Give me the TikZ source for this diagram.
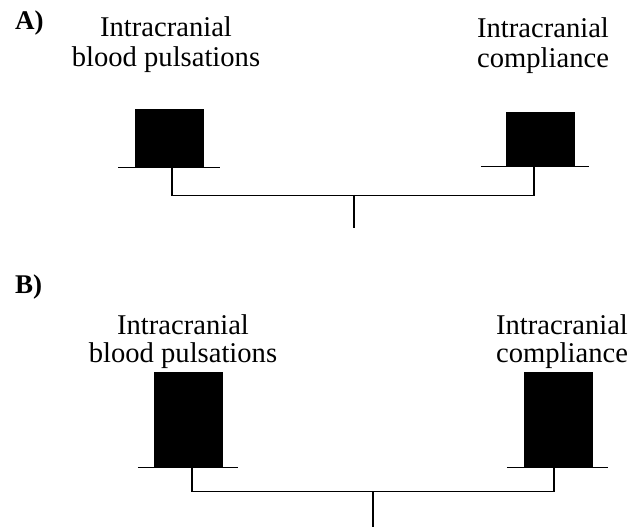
\documentclass[tikz,border=0pt]{standalone}
\usepackage{fontspec}
\setmainfont{Liberation Serif}
\usetikzlibrary{positioning,calc}
\tikzstyle{blocco} = [rectangle, minimum width=68pt, inner sep=0pt, fill=black, draw=black]
\tikzstyle{etichetta} = [align=center, inner sep=0pt, font=\fontsize{28.6}{30}\selectfont]
\tikzstyle{pannello} = [anchor=base west, inner sep=0pt, font=\fontsize{27}{30}\selectfont\bfseries]
\tikzstyle{linea} = [line width=1.2pt]

\begin{document}
\begin{tikzpicture}[x=1pt,y=-1pt]
\useasboundingbox (0,0) rectangle (644,529);
				% A)
				\node (titA) at (15,30) [pannello] {A)};
				\node (tpA) at (166,45) [etichetta] {Intracranial\\blood pulsations};
				\node (tcA) at (543,46) [etichetta] {Intracranial\\compliance};
				\node (pA) at (169.5,138) [blocco, minimum height=58pt] {};
				\node (cA) at (540,139) [blocco, minimum height=54pt] {};
				\draw[linea] ([xshift=-17pt]pA.south west) -- ([xshift=16pt]pA.south east);
				\draw[linea] ([xshift=-25pt]cA.south west) -- ([xshift=15pt]cA.south east);
				\draw[linea] ([xshift=2.5pt]pA.south) -- ++(0,28) -| ([xshift=-6pt]cA.south);
				\coordinate (jA) at (354,195);
				\coordinate (mA) at (354,228);
				\draw[linea] (jA) -- (mA);
				% B)
				\node (titB) at (15,293) [pannello] {B)};
				\node (tpB) at (183,342) [etichetta, font=\fontsize{28.6}{28}\selectfont] {Intracranial\\blood pulsations};
				\node (tcB) at (562,342) [etichetta, font=\fontsize{28.6}{28}\selectfont] {Intracranial\\compliance};
				\node (pB) at (188,419.5) [blocco, minimum height=95pt] {};
				\node (cB) at (558,419.5) [blocco, minimum height=95pt] {};
				\draw[linea] ([xshift=-16pt]pB.south west) -- ([xshift=16pt]pB.south east);
				\draw[linea] ([xshift=-17pt]cB.south west) -- ([xshift=16pt]cB.south east);
				\draw[linea] ([xshift=4pt]pB.south) -- ++(0,24) -| ([xshift=-4pt]cB.south);
				\coordinate (jB) at (373,491);
				\coordinate (mB) at (373,527);
				\draw[linea] (jB) -- (mB);
\end{tikzpicture}
\end{document}
